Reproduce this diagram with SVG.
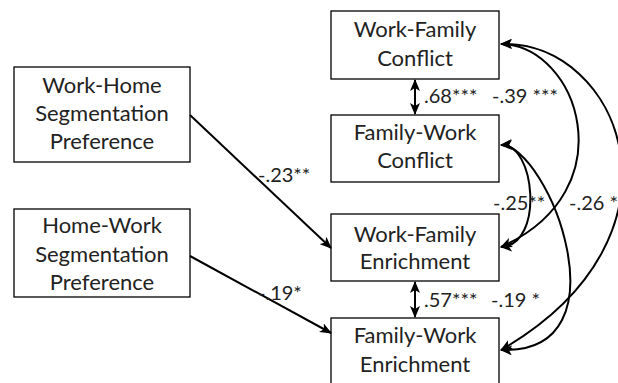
<svg xmlns="http://www.w3.org/2000/svg" width="618" height="383" viewBox="0 0 618 383">
<style>
.box{fill:#fff;stroke:#000;stroke-width:1.3}
.t{font-family:Lato,"Liberation Sans",sans-serif;font-size:22px;fill:#222;text-anchor:middle}
.l{font-family:Lato,"Liberation Sans",sans-serif;font-size:20px;fill:#222}
.c{fill:none;stroke:#000;stroke-width:2}
</style>
<defs>
<marker id="ah" viewBox="0 0 12 10" refX="11" refY="5" markerWidth="12" markerHeight="10" markerUnits="userSpaceOnUse" orient="auto-start-reverse">
<path d="M0,0 L12,5 L0,10 L3,5 Z" fill="#000"/>
</marker>
</defs>
<rect width="618" height="383" fill="#fff"/>
<g id="wh">
<rect class="box" x="14" y="67" width="176" height="95"/>
<text class="t" x="102" y="93">Work-Home</text>
<text class="t" x="102" y="121">Segmentation</text>
<text class="t" x="102" y="149">Preference</text>
</g>
<g id="hw">
<rect class="box" x="14" y="209" width="176" height="88"/>
<text class="t" x="102" y="233">Home-Work</text>
<text class="t" x="102" y="262">Segmentation</text>
<text class="t" x="102" y="290">Preference</text>
</g>
<g id="wfc">
<rect class="box" x="331" y="11" width="168" height="68"/>
<text class="t" x="415" y="37">Work-Family</text>
<text class="t" x="415" y="66">Conflict</text>
</g>
<g id="fwc">
<rect class="box" x="331" y="115" width="168" height="67"/>
<text class="t" x="415" y="140">Family-Work</text>
<text class="t" x="415" y="168">Conflict</text>
</g>
<g id="wfe">
<rect class="box" x="331" y="214" width="168" height="67"/>
<text class="t" x="415" y="242">Work-Family</text>
<text class="t" x="415" y="269">Enrichment</text>
</g>
<g id="fwe">
<rect class="box" x="331" y="318" width="168" height="80"/>
<text class="t" x="415" y="343">Family-Work</text>
<text class="t" x="415" y="372">Enrichment</text>
</g>
<g id="connectors">
<path class="c" d="M190,115 L331,248" marker-end="url(#ah)"/>
<path class="c" d="M190,256 L331,333" marker-end="url(#ah)"/>
<path class="c" d="M415,80 L415,114" marker-start="url(#ah)" marker-end="url(#ah)"/>
<path class="c" d="M415,282 L415,317" marker-start="url(#ah)" marker-end="url(#ah)"/>
<path class="c" d="M501,44 C578,45 628,190 501,247" marker-start="url(#ah)" marker-end="url(#ah)"/>
<path class="c" d="M501,44 C620,40 700,235 501,350" marker-start="url(#ah)" marker-end="url(#ah)"/>
<path class="c" d="M501,145 C535,142 545,245 501,247" marker-start="url(#ah)" marker-end="url(#ah)"/>
<path class="c" d="M501,145 C548,145 630,355 501,350" marker-start="url(#ah)" marker-end="url(#ah)"/>
</g>
<g id="labels">
<text class="l" x="258" y="182">-.23**</text>
<text class="l" x="258" y="300">-.19*</text>
<text class="l" x="424" y="103">.68***</text>
<text class="l" x="492" y="103">-.39 ***</text>
<text class="l" x="424" y="307">.57***</text>
<text class="l" x="491" y="307">-.19 *</text>
<text class="l" x="493" y="210">-.25**</text>
<text class="l" x="569" y="210">-.26 *</text>
</g>
</svg>
